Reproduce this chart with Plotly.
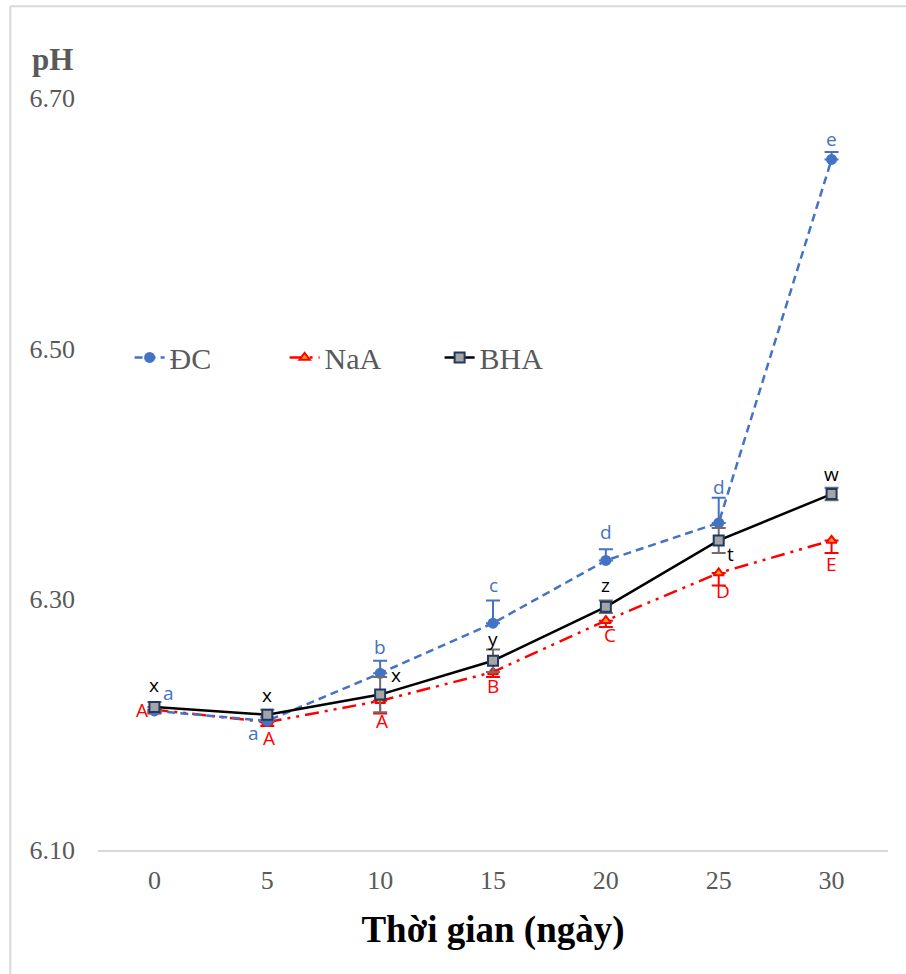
import plotly.graph_objects as go

days = [0, 5, 10, 15, 20, 25, 30]
dc = [6.211, 6.203, 6.241, 6.281, 6.331, 6.361, 6.651]
dc_err = [0.003, 0.003, 0.010, 0.018, 0.009, 0.020, 0.006]
naa = [6.212, 6.202, 6.219, 6.242, 6.283, 6.321, 6.347]
naa_err = [0.003, 0.003, 0.010, 0.004, 0.005, 0.010, 0.010]
bha = [6.214, 6.208, 6.224, 6.251, 6.294, 6.347, 6.384]
bha_err = [0.004, 0.004, 0.014, 0.009, 0.005, 0.010, 0.005]
dc_lab = ["a", "a", "b", "c", "d", "d", "e"]
naa_lab = ["A", "A", "A", "B", "C", "D", "E"]
bha_lab = ["x", "x", "x", "y", "z", "t", "w"]

BLUE = "#4472C4"
RED = "#FF0000"
GREY = "#595959"
SERIF = "Times New Roman, Liberation Serif, serif"
SANS = "Open Sans"

fig = go.Figure()
fig.add_trace(go.Scatter(
    x=days, y=naa, name="NaA", mode="lines+markers", legendrank=2,
    line=dict(color=RED, width=2.5, dash="14px,6px,3px,6px,3px,6px"),
    marker=dict(symbol="triangle-up", size=9, color="#FFA500", line=dict(color=RED, width=2)),
    error_y=dict(type="data", array=[0]*7, arrayminus=naa_err, symmetric=False,
                 color=RED, thickness=2, width=7)))
fig.add_trace(go.Scatter(
    x=days, y=dc, name="ĐC", mode="lines+markers", legendrank=1,
    line=dict(color=BLUE, width=2.5, dash="8px,5px"),
    marker=dict(symbol="circle", size=11, color=BLUE),
    error_y=dict(type="data", array=dc_err, arrayminus=[0]*7, symmetric=False,
                 color=BLUE, thickness=2, width=7)))
fig.add_trace(go.Scatter(
    x=days, y=bha, name="BHA", mode="lines+markers", legendrank=3,
    line=dict(color="black", width=2.5),
    marker=dict(symbol="square", size=10, color="#A5A5A5", line=dict(color="#1F3864", width=2)),
    error_y=dict(type="data", array=bha_err, color="#6E6E6E", thickness=2, width=7)))

# data labels
dc_off = [(14, -18), (-14, 12), (0, -26), (0, -38), (0, -28), (0, -36), (0, -20)]
naa_off = [(-12, 0), (2, 16), (2, 20), (0, 14), (4, 14), (4, 18), (0, 24)]
bha_off = [(0, -22), (0, -20), (16, -20), (0, -22), (0, -22), (12, 14), (0, -20)]
for d, v, t, o in zip(days, dc, dc_lab, dc_off):
    fig.add_annotation(x=d, y=v, text=t, showarrow=False, xshift=o[0], yshift=-o[1],
                       font=dict(family=SANS, size=19, color=BLUE))
for d, v, t, o in zip(days, naa, naa_lab, naa_off):
    fig.add_annotation(x=d, y=v, text=t, showarrow=False, xshift=o[0], yshift=-o[1],
                       font=dict(family=SANS, size=19, color=RED))
for d, v, t, o in zip(days, bha, bha_lab, bha_off):
    fig.add_annotation(x=d, y=v, text=t, showarrow=False, xshift=o[0], yshift=-o[1],
                       font=dict(family=SANS, size=19, color="black"))

fig.add_annotation(xref="paper", yref="paper", x=-0.058, y=1.025, text="<b>pH</b>",
                   showarrow=False, xanchor="center", yanchor="bottom",
                   font=dict(family=SERIF, size=31, color=GREY))

# chart frame (top and left edges visible)
fig.add_shape(type="line", xref="paper", yref="paper", x0=-0.111, x1=1.03, y0=1.122, y1=1.122,
              line=dict(color="#D9D9D9", width=2))
fig.add_shape(type="line", xref="paper", yref="paper", x0=-0.111, x1=-0.111, y0=1.122, y1=-0.17,
              line=dict(color="#D9D9D9", width=2))

fig.update_layout(
    width=906, height=974,
    margin=dict(l=98, r=18, t=98, b=124),
    paper_bgcolor="white", plot_bgcolor="white",
    font=dict(family=SERIF, color=GREY),
    showlegend=True,
    legend=dict(orientation="h", x=0.04, y=0.655, xanchor="left", yanchor="middle",
                font=dict(family=SERIF, size=30, color=GREY), bgcolor="rgba(0,0,0,0)",
                entrywidth=110, entrywidthmode="pixels", tracegroupgap=0),
    xaxis=dict(range=[-2.5, 32.5], tickvals=days, ticktext=[str(d) for d in days],
               showgrid=False, zeroline=False, showline=True, linecolor="#D9D9D9", linewidth=2,
               ticks="", ticklabelstandoff=6,
               tickfont=dict(family=SERIF, size=26, color=GREY),
               title=dict(text="<b>Thời gian (ngày)</b>", standoff=22,
                          font=dict(family=SERIF, size=37, color="black"))),
    yaxis=dict(range=[6.10, 6.70], tickvals=[6.10, 6.30, 6.50, 6.70],
               ticktext=["6.10", "6.30", "6.50", "6.70"],
               showgrid=False, zeroline=False, showline=False, ticks="",
               ticklabelstandoff=22,
               tickfont=dict(family=SERIF, size=26, color=GREY)),
)

fig.write_html("out.html")
